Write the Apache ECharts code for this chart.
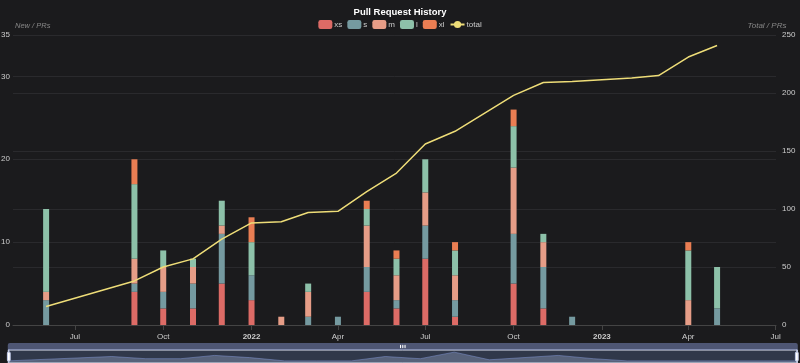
<!DOCTYPE html>
<html>
<head>
<meta charset="utf-8">
<script src="https://cdn.jsdelivr.net/npm/echarts@6/dist/echarts.min.js"></script>
<style>
html,body{margin:0;padding:0;background:#1b1b1d;}
#c{width:800px;height:363px;}
</style>
</head>
<body>
<div id="c"></div>
<script>
const dates = ['2021-06-01','2021-09-01','2021-10-01','2021-11-01','2021-12-01','2022-01-01','2022-02-01','2022-03-01','2022-04-01','2022-05-01','2022-06-01','2022-07-01','2022-08-01','2022-10-01','2022-11-01','2022-12-01','2023-02-01','2023-03-01','2023-04-01','2023-05-01'];
const xs = [0,4,2,2,5,3,0,0,0,4,2,8,1,5,2,0,0,0,0,0];
const s  = [3,1,2,3,6,3,0,1,1,3,1,4,2,6,5,1,0,0,0,2];
const m  = [1,3,3,2,1,0,1,3,0,5,3,4,3,8,3,0,0,0,3,0];
const l  = [10,9,2,1,3,4,0,1,0,2,2,4,3,5,1,0,0,0,6,5];
const xl = [0,3,0,0,0,3,0,0,0,1,1,0,1,2,0,0,0,0,1,0];
const total = [16,38,50,57,74,88,89,97,98,115,131,156,167,198,209,210,213,215,231,241];
const sizeNames = ['xs','s','m','l','xl'];
const sizeData = [xs,s,m,l,xl];
const colors = ['#dd6b66','#759aa0','#e69d87','#8dc1a9','#ea7e53','#eedd78'];

const pair = arr => dates.map((d,i)=>[d,arr[i]]);
const series = sizeNames.map((n,k)=>({
  name:n, type:'bar', stack:'size', barWidth:6,
  itemStyle:{color:colors[k]},
  data: pair(sizeData[k])
}));
series.push({
  name:'total', type:'line', yAxisIndex:1, showSymbol:false, symbol:'circle',
  itemStyle:{color:colors[5]}, lineStyle:{color:colors[5], width:1.5},
  data: pair(total)
});

const FONT = 'Liberation Sans, Arial, sans-serif';
const chart = echarts.init(document.getElementById('c'), null, {renderer:'canvas'});
chart.setOption({
  backgroundColor:'#1b1b1d',
  textStyle:{fontFamily:FONT},
  title:{text:'Pull Request History', left:'center', top:2,
    textStyle:{color:'#fff', fontSize:9.5, fontWeight:'bold', fontFamily:FONT}},
  legend:{top:15, left:'center', itemWidth:14, itemHeight:9, itemGap:5,
    textStyle:{color:'#ccc', fontSize:8, fontFamily:FONT, padding:[0,0,0,-3]},
    data:['xs','s','m','l','xl','total']},
  grid:{left:13, right:24, top:35, bottom:38, containLabel:false, outerBoundsMode:'none'},
  xAxis:{type:'time', min:'2021-04-30T15:00:00', max:'2023-06-28T06:00:00',
    axisLine:{lineStyle:{color:'#444'}},
    axisTick:{show:true, lineStyle:{color:'#444'}},
    axisLabel:{color:'#ccc', fontSize:8, fontFamily:FONT},
    splitLine:{show:false}},
  yAxis:[
    {type:'value', min:0, max:35, interval:10, name:'New / PRs',
     nameGap:5, nameTextStyle:{color:'#888', fontStyle:'italic', fontSize:7.5, align:'left', padding:[0,0,0,2]},
     axisLabel:{color:'#ccc', fontSize:8, margin:3},
     splitLine:{lineStyle:{color:'#2a2a2d'}}},
    {type:'value', min:0, max:250, interval:50, name:'Total / PRs',
     nameGap:5, nameTextStyle:{color:'#888', fontStyle:'italic', fontSize:8, align:'center', padding:[0,18,0,0]},
     axisLabel:{color:'#ccc', fontSize:8, margin:6},
     splitLine:{lineStyle:{color:'#2a2a2d'}}}
  ],
  dataZoom:[{type:'slider', xAxisIndex:0, left:5, right:5, top:343, height:14, start:0, end:100,
    textStyle:{fontSize:8}}],
  series: series
});
</script>
</body>
</html>
